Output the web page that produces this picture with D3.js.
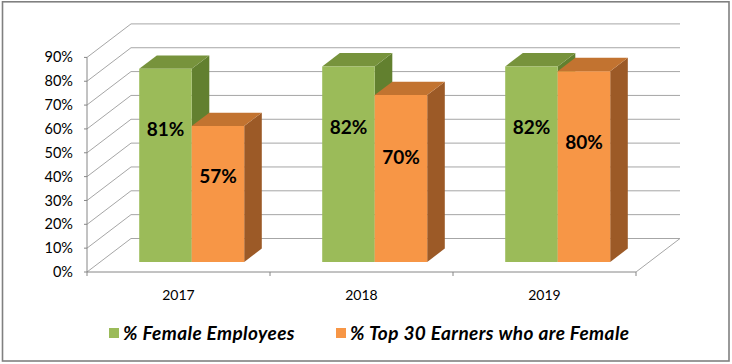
<!DOCTYPE html>
<html>
<head>
<meta charset="utf-8">
<script src="https://cdn.jsdelivr.net/npm/d3@7"></script>
<style>
  html, body { margin: 0; padding: 0; background: #fff; }
  svg { display: block; font-family: Lato, "Open Sans", sans-serif; }
</style>
</head>
<body>
<svg id="chart" width="732" height="364"></svg>
<script>
// Excel-style 3D clustered columns, faked with a simple oblique projection.

const years = ["2017", "2018", "2019"];
const femaleEmployees = [0.81, 0.82, 0.82];
const topEarnersFemale = [0.57, 0.70, 0.80];
const seriesNames = ["% Female Employees", "% Top 30 Earners who are Female"];
const tickValues = [0, 0.1, 0.2, 0.3, 0.4, 0.5, 0.6, 0.7, 0.8, 0.9];

const W = 732, H = 364;
const DX = 44, DY = -33.5;        // full depth offset of the back wall
const D0 = 0.3, D1 = 0.7;         // bar front/back depth fraction

const series = [
  { name: seriesNames[0], values: femaleEmployees, front: "#9bbb59", top: "#77933c", side: "#62802f", labelAt: 0.69 },
  { name: seriesNames[1], values: topEarnersFemale, front: "#f79646", top: "#c27330", side: "#9c5a27", labelAt: 0.63 }
];

const svg = d3.select("#chart");

svg.append("rect")
  .attr("x", 2.5).attr("y", 1.8).attr("width", 726.5).attr("height", 359.2)
  .attr("fill", "#fff").attr("stroke", "#808080").attr("stroke-width", 1.6);

const x = d3.scaleBand().domain(years).range([87, 636]);
const inner = d3.scaleBand().domain(d3.range(series.length))
  .range([0, x.bandwidth()]).paddingOuter(0.743);
const y = d3.scaleLinear().domain([0, 0.9]).range([272, 57.4]);

const P = (px, v, d) => [px + d * DX, y(v) + d * DY];
const pts = arr => arr.map(p => p.join(",")).join(" ");

// walls: side gridlines + back gridlines
const grid = svg.append("g").attr("stroke", "#a6a6a6").attr("stroke-width", 1).attr("fill", "none");
const x0 = x.range()[0], x1 = x.range()[1];
tickValues.forEach(t => {
  grid.append("polyline")
    .attr("points", pts([P(x0, t, 0), P(x0, t, 1), P(x1, t, 1)]));
});
// floor right edge
grid.append("line")
  .attr("x1", P(x1, 0, 0)[0]).attr("y1", P(x1, 0, 0)[1])
  .attr("x2", P(x1, 0, 1)[0]).attr("y2", P(x1, 0, 1)[1]);

// axes
const ax = svg.append("g").attr("stroke", "#868686").attr("stroke-width", 1).attr("fill", "none");
ax.append("line").attr("x1", x0).attr("x2", x0).attr("y1", y(0.9)).attr("y2", y(0));
tickValues.forEach(t => {
  ax.append("line").attr("x1", x0 - 3).attr("x2", x0).attr("y1", y(t)).attr("y2", y(t));
});
ax.append("line").attr("x1", x0).attr("x2", x1).attr("y1", y(0)).attr("y2", y(0));
[x0].concat(years.map(c => x(c) + x.bandwidth())).forEach(px => {
  ax.append("line").attr("x1", px).attr("x2", px).attr("y1", y(0)).attr("y2", y(0) + 4);
});

svg.append("g").selectAll("text")
  .data(tickValues).enter().append("text")
  .attr("x", 73).attr("y", d => y(d)).attr("dy", "0.35em")
  .attr("text-anchor", "end").attr("font-size", 14.5).attr("fill", "#000")
  .text(d => d3.format(".0%")(d));

svg.append("g").selectAll("text")
  .data(years).enter().append("text")
  .attr("x", d => x(d) + x.bandwidth() / 2).attr("y", 300)
  .attr("text-anchor", "middle").attr("font-size", 14).attr("fill", "#000")
  .text(d => d);

// bars
const bars = svg.append("g");
years.forEach((yr, i) => {
  series.forEach((s, j) => {
    const v = s.values[i];
    const bx0 = x(yr) + inner(j), bx1 = bx0 + inner.bandwidth();
    const g = bars.append("g");
    g.append("polygon").attr("fill", s.side)
      .attr("points", pts([P(bx1, 0, D0), P(bx1, v, D0), P(bx1, v, D1), P(bx1, 0, D1)]));
    g.append("polygon").attr("fill", s.top)
      .attr("points", pts([P(bx0, v, D0), P(bx1, v, D0), P(bx1, v, D1), P(bx0, v, D1)]));
    g.append("polygon").attr("fill", s.front)
      .attr("points", pts([P(bx0, 0, D0), P(bx1, 0, D0), P(bx1, v, D0), P(bx0, v, D0)]));
  });
});

// data labels drawn last so they sit on top
years.forEach((yr, i) => {
  series.forEach((s, j) => {
    const v = s.values[i];
    const cx = x(yr) + inner(j) + inner.bandwidth() / 2;
    const p = P(cx, v * s.labelAt, D0);
    svg.append("text")
      .attr("x", p[0]).attr("y", p[1]).attr("dy", "0.36em")
      .attr("text-anchor", "middle").attr("font-size", 19).attr("font-weight", "bold")
      .attr("fill", "#000")
      .text(d3.format(".0%")(v));
  });
});

// legend
const legendX = [109, 336];
const lg = svg.append("g");
series.forEach((s, j) => {
  lg.append("rect").attr("x", legendX[j]).attr("y", 328).attr("width", 10).attr("height", 10)
    .attr("fill", s.front);
  lg.append("text").attr("x", legendX[j] + 14).attr("y", 340)
    .attr("font-size", 19).attr("letter-spacing", 0.4)
    .attr("font-weight", "bold").attr("font-style", "italic")
    .attr("fill", "#000")
    .text(s.name);
});
</script>
</body>
</html>
